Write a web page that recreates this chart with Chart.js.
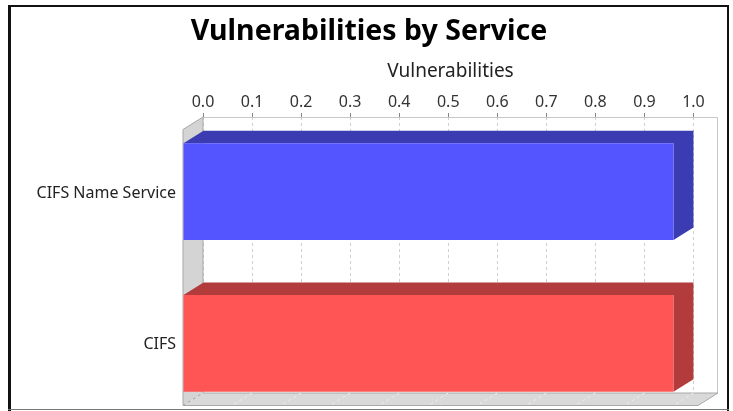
<!DOCTYPE html>
<html><head><meta charset="utf-8">
<script src="https://cdn.jsdelivr.net/npm/chart.js@4/dist/chart.umd.min.js"></script>
<style>
html,body{margin:0;padding:0;background:#fff;overflow:hidden;}
#wrap{position:relative;width:733px;height:411px;}
canvas{position:absolute;left:0;top:0;}
.ln{position:absolute;}
</style></head><body>
<div id="wrap">
<canvas id="c" width="733" height="411"></canvas>
<div class="ln" style="left:8px;top:5px;width:721px;height:2px;background:#111"></div>
<div class="ln" style="left:8px;top:5px;width:3px;height:406px;background:#111"></div>
<div class="ln" style="left:727px;top:5px;width:2px;height:406px;background:#111"></div>
<div class="ln" style="left:8px;top:409px;width:721px;height:1px;background:#777"></div>
</div>
<script>
// ---- data ----
const chartTitle = 'Vulnerabilities by Service';
const axisTitle = 'Vulnerabilities';
const categories = ['CIFS Name Service', 'CIFS'];
const values = [1.0, 1.0];
const valueTicks = [0.0, 0.1, 0.2, 0.3, 0.4, 0.5, 0.6, 0.7, 0.8, 0.9, 1.0];
const axisMax = 1.05;

// ---- styles ----
const barColors = ['#5555FF', '#FF5555'];
const barShades = ['#3B3BB2', '#B23B3B'];
const DX = 20, DY = 12.5;
const WALL = '#D4D4D4', FLOOR = '#D9D9D9', WALL_EDGE = '#A8A8A8', BACK_EDGE = '#C8C8C8';
const FONT = '"Noto Sans", "Open Sans", sans-serif';

const noPad = s => { s.paddingTop = 0; s.paddingBottom = 0; s.paddingLeft = 0; s.paddingRight = 0; };

const threeD = {
  id: 'threeD',
  beforeDatasetsDraw(chart) {
    const {ctx, chartArea: a, scales: {x}} = chart;
    ctx.save();
    ctx.lineWidth = 1;
    // back wall border
    ctx.strokeStyle = BACK_EDGE;
    ctx.beginPath();
    ctx.moveTo(a.left, a.top + 0.5); ctx.lineTo(a.right - 0.5, a.top + 0.5); ctx.lineTo(a.right - 0.5, a.bottom);
    ctx.stroke();
    // left wall
    ctx.fillStyle = WALL; ctx.strokeStyle = WALL_EDGE;
    ctx.beginPath();
    ctx.moveTo(a.left, a.top); ctx.lineTo(a.left - DX, a.top + DY);
    ctx.lineTo(a.left - DX, a.bottom + DY); ctx.lineTo(a.left, a.bottom); ctx.closePath();
    ctx.fill(); ctx.stroke();
    // floor
    ctx.fillStyle = FLOOR;
    ctx.beginPath();
    ctx.moveTo(a.left, a.bottom); ctx.lineTo(a.right, a.bottom);
    ctx.lineTo(a.right - DX, a.bottom + DY); ctx.lineTo(a.left - DX, a.bottom + DY); ctx.closePath();
    ctx.fill(); ctx.stroke();
    // floor grid traces
    ctx.strokeStyle = '#EEEEEE';
    ctx.setLineDash([3, 3]);
    valueTicks.forEach(v => {
      const px = x.getPixelForValue(v);
      ctx.beginPath(); ctx.moveTo(px, a.bottom); ctx.lineTo(px - DX, a.bottom + DY); ctx.stroke();
    });
    ctx.setLineDash([]);
    // bar top + side faces
    const meta = chart.getDatasetMeta(0);
    meta.data.forEach((el, i) => {
      const t = el.y - el.height / 2, b = el.y + el.height / 2;
      const x0 = Math.min(el.base, el.x), x1 = Math.max(el.base, el.x);
      ctx.fillStyle = barShades[i];
      ctx.beginPath();
      ctx.moveTo(x0 - DX, t + DY); ctx.lineTo(x0, t); ctx.lineTo(x1, t); ctx.lineTo(x1, b);
      ctx.lineTo(x1 - DX, b + DY); ctx.lineTo(x1 - DX, t + DY); ctx.closePath();
      ctx.fill();
    });
    ctx.restore();
    ctx.save();
    ctx.translate(-DX, DY);
  },
  afterDatasetsDraw(chart) {
    chart.ctx.restore();
  },
  afterDraw(chart) {
    const {ctx, chartArea: a} = chart;
    ctx.save();
    ctx.font = '19px ' + FONT;
    ctx.fillStyle = '#222';
    ctx.textAlign = 'center';
    ctx.textBaseline = 'middle';
    ctx.fillText(axisTitle, (a.left - DX + a.right) / 2, 72);
    ctx.restore();
  }
};

new Chart(document.getElementById('c'), {
  type: 'bar',
  data: {
    datasets: [{
      data: categories.map((c, i) => ({x: values[i], y: i})),
      backgroundColor: barColors,
      borderWidth: 0,
      clip: false,
      categoryPercentage: 1,
      barPercentage: 0.35 / 0.55
    }]
  },
  options: {
    indexAxis: 'y',
    responsive: false,
    animation: false,
    devicePixelRatio: 1,
    layout: {padding: {left: 10, right: 5, top: 0, bottom: 18}},
    plugins: {
      legend: {display: false},
      tooltip: {enabled: false},
      title: {
        display: true, text: chartTitle, color: '#000',
        font: {family: FONT, size: 28.5, weight: 'bold', lineHeight: 1.2},
        padding: {top: 15, bottom: 0}
      }
    },
    scales: {
      x: {
        type: 'linear', position: 'top', min: 0, max: axisMax,
        afterBuildTicks: s => { s.ticks = valueTicks.map(v => ({value: v})); },
        afterFit: s => { noPad(s); s.height = 117 - 15 - 28.5 * 1.2; },
        ticks: {
          callback: v => Number(v).toFixed(1),
          color: '#333', font: {family: FONT, size: 16}, padding: 1, maxRotation: 0, autoSkip: false
        },
        grid: {color: '#D0D0D0', tickColor: '#888', tickLength: 4, tickBorderDash: []},
        border: {display: false, dash: [3, 3]}
      },
      y: {
        type: 'linear', position: 'left', reverse: true, offset: false,
        min: -0.225 / 0.55, max: 0.775 / 0.55,
        afterBuildTicks: s => { s.ticks = categories.map((c, i) => ({value: i})); },
        afterFit: s => { noPad(s); s.width = 193; },
        ticks: {
          callback: v => categories[v] ?? '',
          color: '#222', font: {family: FONT, size: 16}, padding: 27, labelOffset: DY + 1.5, autoSkip: false
        },
        grid: {display: false, drawTicks: false, offset: false},
        border: {display: false}
      },
      yRight: {
        type: 'linear', position: 'right', display: true,
        grid: {display: false, drawTicks: false}, ticks: {display: false}, border: {display: false},
        afterFit: s => { noPad(s); s.width = 10; }
      }
    }
  },
  plugins: [threeD]
});
</script>
</body></html>
